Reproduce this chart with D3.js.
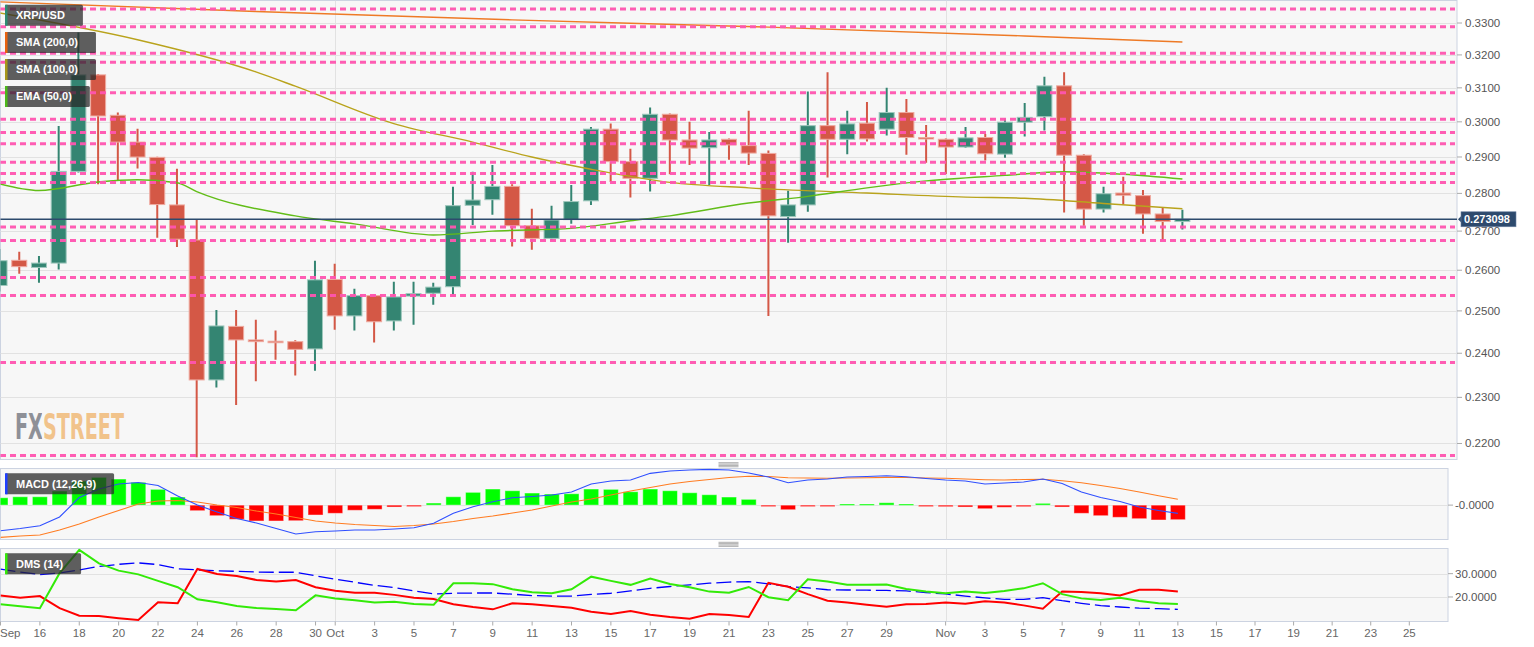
<!DOCTYPE html>
<html><head><meta charset="utf-8">
<script src="https://cdn.jsdelivr.net/npm/d3@7"></script>
<style>
html,body{margin:0;padding:0;background:#fff;}
svg{display:block;font-family:"Liberation Sans",Arial,sans-serif;}
</style></head><body>
<svg id="chart" width="1534" height="647"></svg>
<script>
// ---------------- DATA ----------------
const candleDates = ["2019-09-14","2019-09-15","2019-09-16","2019-09-17","2019-09-18","2019-09-19","2019-09-20","2019-09-21","2019-09-22","2019-09-23","2019-09-24","2019-09-25","2019-09-26","2019-09-27","2019-09-28","2019-09-29","2019-09-30",
"2019-10-01","2019-10-02","2019-10-03","2019-10-04","2019-10-05","2019-10-06","2019-10-07","2019-10-08","2019-10-09","2019-10-10","2019-10-11","2019-10-12","2019-10-13","2019-10-14","2019-10-15","2019-10-16","2019-10-17","2019-10-18","2019-10-19","2019-10-20","2019-10-21","2019-10-22","2019-10-23","2019-10-24","2019-10-25","2019-10-26","2019-10-27","2019-10-28","2019-10-29","2019-10-30","2019-10-31",
"2019-11-01","2019-11-02","2019-11-03","2019-11-04","2019-11-05","2019-11-06","2019-11-07","2019-11-08","2019-11-09","2019-11-10","2019-11-11","2019-11-12","2019-11-13"];
const opens  = [.2562,.2625,.2607,.2618,.2860,.3139,.3019,.2942,.2899,.2769,.2677,.2339,.2463,.2431,.2428,.2427,.2410,
.2577,.2488,.2537,.2476,.2536,.2543,.2559,.2768,.2783,.2819,.2714,.2681,.2730,.2780,.2979,.2887,.2841,.3022,.2948,.2926,.2950,.2932,.2910,.2738,.2769,.2989,.2950,.2996,.2979,.3027,.2955,
.2950,.2928,.2955,.2908,.2999,.3015,.3106,.2905,.2758,.2801,.2794,.2745,.2725];
const highs  = [.2654,.2647,.2636,.2988,.3270,.3142,.3027,.2980,.2901,.2867,.2729,.2502,.2502,.2479,.2453,.2430,.2624,
.2616,.2554,.2539,.2571,.2571,.2569,.2818,.2859,.2878,.2825,.2759,.2767,.2823,.2985,.2995,.2923,.3042,.3024,.3000,.2971,.2952,.3032,.2918,.2807,.3089,.3147,.3032,.3058,.3100,.3067,.2991,
.2952,.2985,.2965,.3010,.3055,.3133,.3147,.2908,.2818,.2845,.2809,.2762,.2756];
const lows   = [.2547,.2591,.2569,.2602,.2857,.2825,.2834,.2868,.2683,.2659,.2171,.2322,.2283,.2336,.2385,.2349,.2360,
.2455,.2453,.2425,.2453,.2467,.2515,.2540,.2716,.2743,.2660,.2652,.2677,.2719,.2769,.2831,.2789,.2805,.2852,.2878,.2823,.2892,.2878,.2488,.2670,.2751,.2843,.2908,.2944,.2961,.2906,.2884,
.2853,.2926,.2890,.2898,.2958,.2975,.2749,.2714,.2749,.2771,.2693,.2677,.2704];
const closes = [.2624,.2609,.2618,.2860,.3139,.3017,.2942,.2900,.2770,.2679,.2339,.2464,.2431,.2427,.2426,.2409,.2576,
.2488,.2537,.2474,.2534,.2542,.2558,.2767,.2782,.2819,.2714,.2681,.2729,.2778,.2979,.2887,.2841,.3022,.2948,.2925,.2948,.2934,.2911,.2740,.2769,.2989,.2950,.2994,.2951,.3027,.2955,.2951,
.2928,.2954,.2909,.2999,.3013,.3106,.2905,.2758,.2799,.2795,.2745,.2725,.273098];
const lastPrice = 0.273098;

const sma200Dates  = ["2019-09-14","2019-09-27","2019-10-10","2019-10-23","2019-11-05","2019-11-13"];
const sma200Values = [0.3368,0.3337,0.3310,0.3287,0.3259,0.3240];
const sma100Dates  = ["2019-09-14","2019-09-21","2019-09-27","2019-09-29","2019-10-04","2019-10-08","2019-10-11","2019-10-14","2019-10-18","2019-10-22","2019-10-28","2019-11-02","2019-11-05","2019-11-09","2019-11-13"];
const sma100Values = [0.3332,0.3247,0.3148,0.3105,0.2995,0.2942,0.2900,0.2866,0.2830,0.2815,0.2801,0.2790,0.2787,0.2773,0.2759];
const ema50Dates   = ["2019-09-14","2019-09-16","2019-09-19","2019-09-21","2019-09-23","2019-09-24","2019-09-29","2019-10-02","2019-10-06","2019-10-09","2019-10-13","2019-10-16","2019-10-18","2019-10-22","2019-10-25","2019-10-28","2019-10-31","2019-11-04","2019-11-07","2019-11-10","2019-11-13"];
const ema50Values  = [0.2826,0.2808,0.2831,0.2837,0.2829,0.2805,0.2740,0.2719,0.2690,0.2700,0.2707,0.2727,0.2740,0.2774,0.2792,0.2815,0.2834,0.2849,0.2859,0.2852,0.2839];

const levels = [0.33452,0.32884,0.32050,0.31776,0.30857,0.30075,0.29691,0.29370,0.28854,0.28541,0.28293,0.27109,0.26755,0.25816,0.25374,0.23786,0.21746];

const macdHist = [0.00205,0.00233,0.00233,0.00391,0.00669,0.00771,0.00724,0.00633,0.00438,0.00225,-0.00155,-0.00294,-0.00394,-0.00441,-0.00441,-0.00433,-0.00275,
-0.00228,-0.00144,-0.00117,-0.00053,-0.00006,0.00058,0.00233,0.00355,0.00447,0.0040,0.00336,0.00308,0.00316,0.00447,0.00438,0.00372,0.00447,0.0040,0.00344,0.00289,0.00225,0.00161,-0.00025,-0.00128,-0.00017,-0.00006,0.00031,0.00031,0.00067,0.00031,-0.00002,
-0.00044,-0.00053,-0.0010,-0.00061,-0.00044,0.0005,-0.00053,-0.00228,-0.00294,-0.00339,-0.00377,-0.00413,-0.00405];
const macdLine = [-0.0071,-0.00649,-0.00572,-0.0033,0.00211,0.00447,0.00586,0.00627,0.00544,0.00253,0.00003,-0.00191,-0.00372,-0.00497,-0.00649,-0.00802,-0.00738,
-0.00719,-0.00691,-0.00691,-0.00663,-0.00627,-0.00505,-0.00228,-0.00044,0.00094,0.00205,0.00239,0.0028,0.00364,0.00586,0.00669,0.00697,0.00882,0.00946,0.00974,0.00993,0.00974,0.00891,0.0078,0.00622,0.00697,0.00724,0.0078,0.00794,0.00816,0.00788,0.00738,
0.00697,0.00669,0.00586,0.00613,0.00641,0.00724,0.00599,0.00364,0.00211,0.0010,-0.00053,-0.0015,-0.00228];
const macdSignal = [-0.00894,-0.00857,-0.0083,-0.00691,-0.00524,-0.0033,-0.0015,0.00031,0.00114,0.00128,0.00086,0.00003,-0.00067,-0.00164,-0.00247,-0.00344,-0.00441,
-0.00497,-0.00538,-0.00566,-0.00594,-0.00566,-0.00524,-0.00455,-0.00372,-0.00302,-0.00219,-0.00136,-0.00025,0.00086,0.00169,0.0028,0.00391,0.00488,0.00586,0.00655,0.0071,0.00766,0.00799,0.00794,0.0076,0.00752,0.00744,0.00752,0.0076,0.00771,0.00766,0.00752,
0.00744,0.00724,0.00705,0.00697,0.0071,0.00716,0.00677,0.00622,0.00544,0.00461,0.00364,0.00261,0.00161];

const diPlus = [16.9,16.0,15.2,30.2,40.2,34.4,31.3,29.7,26.9,24.2,19.0,17.7,16.1,15.3,14.8,14.3,20.7,
19.3,18.6,17.6,17.9,17.0,16.7,25.9,25.9,25.5,23.3,22.0,21.6,23.3,28.7,26.9,25.2,27.9,25.6,24.2,22.3,21.8,24.3,19.9,18.6,27.6,26.6,25.2,25.2,25.3,23.4,22.3,
21.6,22.4,21.7,22.6,23.7,25.9,21.2,19.4,18.7,19.7,18.3,17.3,17.0];
const diMinus = [20.6,19.7,20.4,15.2,12.0,11.8,10.9,10.1,17.7,17.3,32.0,29.9,29.0,27.3,26.6,27.3,24.2,
22.7,21.8,21.8,20.9,19.7,19.1,16.9,15.7,14.7,17.3,16.9,16.1,15.4,13.7,12.7,14.0,12.4,11.4,10.7,12.7,12.3,11.4,26.1,24.4,21.2,18.4,17.6,16.7,15.8,16.9,17.0,
17.6,17.1,18.2,17.6,16.4,15.0,22.3,22.1,21.6,20.6,23.1,23.1,22.4];
const adx = [31.9,30.7,29.6,30.3,31.6,33.1,34.0,34.6,33.9,32.1,31.6,31.2,31.0,30.7,30.6,30.6,29.1,
27.6,26.3,25.0,24.0,22.6,21.3,21.6,21.7,21.7,21.2,20.6,20.4,20.4,21.1,21.6,22.6,23.7,24.5,25.2,25.9,26.4,26.6,25.6,24.5,23.9,23.1,23.0,22.9,22.8,22.6,21.9,
21.3,20.4,19.6,19.0,19.0,19.7,18.4,17.3,16.3,15.7,15.2,15.0,14.7];

const priceTicks = [0.22,0.23,0.24,0.25,0.26,0.27,0.28,0.29,0.30,0.31,0.32,0.33];
const macdTicks = [0]; const macdTickLabels = ["-0.0000"];
const dmsTicks = [20,30];
const xTickDates = ["2019-09-14","2019-09-16","2019-09-18","2019-09-20","2019-09-22","2019-09-24","2019-09-26","2019-09-28","2019-09-30",
"2019-10-01","2019-10-03","2019-10-05","2019-10-07","2019-10-09","2019-10-11","2019-10-13","2019-10-15","2019-10-17","2019-10-19","2019-10-21","2019-10-23","2019-10-25","2019-10-27","2019-10-29",
"2019-11-01","2019-11-03","2019-11-05","2019-11-07","2019-11-09","2019-11-11","2019-11-13","2019-11-15","2019-11-17","2019-11-19","2019-11-21","2019-11-23","2019-11-25"];
const xTickLabels = ["Sep","16","18","20","22","24","26","28","30","Oct","3","5","7","9","11","13","15","17","19","21","23","25","27","29","Nov","3","5","7","9","11","13","15","17","19","21","23","25"];
const monthStarts = ["2019-10-01","2019-11-01"];
const legendMain = [{t:"XRP/USD",c:"#2e8a73"},{t:"SMA (200,0)",c:"#e8620f"},{t:"SMA (100,0)",c:"#a8981a"},{t:"EMA (50,0)",c:"#4cb81a"}];

// ---------------- LAYOUT ----------------
const parse = d3.utcParse("%Y-%m-%d");
const svg = d3.select("#chart");
const mainR = 1457, mainT = 0.5, mainB = 459.5;
const subR = 1448, macdT = 468.5, macdB = 539.5, dmsT = 548.5, dmsB = 621.5;

const xMain = d3.scaleUtc().domain([parse("2019-09-14"), parse("2019-11-13")]).range([-0.46, 1182.4]);
const xSub = d3.scaleUtc().domain([parse("2019-09-14"), parse("2019-11-03"), parse("2019-11-25")]).range([0.5, 985, 1409.3]);
const yMain = d3.scaleLog().domain([0.22, 0.33]).range([443.47, 23]);
const yMacd = d3.scaleLinear().domain([-0.0094, 0.0103]).range([539, 468]);
const yDms = d3.scaleLinear().domain([9.7, 41.0]).range([621, 548]);

const candles = candleDates.map((d,i)=>({date:parse(d),o:opens[i],h:highs[i],l:lows[i],c:closes[i]}));
const defs = svg.append("defs");
function clip(id,x,y,w,h){defs.append("clipPath").attr("id",id).append("rect").attr("x",x).attr("y",y).attr("width",w).attr("height",h);}
clip("cMain",0.5,mainT,mainR-0.5,mainB-mainT);
clip("cMacd",0.5,macdT,subR-0.5,macdB-macdT);
clip("cDms",0.5,dmsT,subR-0.5,dmsB-dmsT);

const panelStroke = "#ccd3e1", gridC = "#e2e2e2";
function panel(y0,y1,r){svg.append("rect").attr("x",0.5).attr("y",y0).attr("width",r-0.5).attr("height",y1-y0).attr("fill","#f7f7f7").attr("stroke",panelStroke);}
panel(mainT,mainB,mainR); panel(macdT,macdB,subR); panel(dmsT,dmsB,subR);

// ---------- MAIN PANEL ----------
const gM = svg.append("g").attr("clip-path","url(#cMain)");
gM.selectAll(".hg").data(priceTicks).join("line").attr("x1",0).attr("x2",mainR)
  .attr("y1",d=>Math.round(yMain(d))+0.5).attr("y2",d=>Math.round(yMain(d))+0.5).attr("stroke",gridC);
gM.selectAll(".vg").data(monthStarts).join("line").attr("x1",d=>Math.round(xMain(parse(d)))+0.5).attr("x2",d=>Math.round(xMain(parse(d)))+0.5)
  .attr("y1",mainT).attr("y2",mainB).attr("stroke",gridC);

// logo: one text element, two colours via a hard-stop gradient
const logoGrad = defs.append("linearGradient").attr("id","logoFill").attr("gradientUnits","userSpaceOnUse")
  .attr("x1",0).attr("x2",1534).attr("y1",0).attr("y2",0);
const logo = gM.append("text").attr("x",15).attr("y",439)
  .attr("font-family","'Liberation Sans Narrow','DejaVu Sans Condensed','Roboto',sans-serif").attr("font-weight","bold").attr("font-size",35)
  .attr("textLength",109).attr("lengthAdjust","spacingAndGlyphs").attr("fill","url(#logoFill)").text("FXSTREET");
let splitX = 41;
try { splitX = logo.node().getStartPositionOfChar(2).x - 0.5; } catch(e) {}
const off = splitX/1534;
logoGrad.append("stop").attr("offset",0).attr("stop-color","#8e9097");
logoGrad.append("stop").attr("offset",off).attr("stop-color","#8e9097");
logoGrad.append("stop").attr("offset",off).attr("stop-color","#f1c38b");
logoGrad.append("stop").attr("offset",1).attr("stop-color","#f1c38b");

// candles
const upC="#348572", upS="#9fc8bd", dnC="#d45846", dnS="#efaaa0";
const cw = 15;
const cg = gM.append("g");
cg.selectAll(".wick").data(candles).join("line")
  .attr("x1",d=>xMain(d.date)).attr("x2",d=>xMain(d.date))
  .attr("y1",d=>yMain(d.h)).attr("y2",d=>yMain(d.l))
  .attr("stroke",d=>d.c>=d.o?upC:dnC).attr("stroke-width",2);
cg.selectAll(".body").data(candles).join("rect")
  .attr("x",d=>xMain(d.date)-cw/2).attr("width",cw)
  .attr("y",d=>yMain(Math.max(d.o,d.c)))
  .attr("height",d=>Math.max(1.5,yMain(Math.min(d.o,d.c))-yMain(Math.max(d.o,d.c))))
  .attr("fill",d=>d.c>=d.o?upC:dnC).attr("stroke",d=>d.c>=d.o?upS:dnS).attr("stroke-width",1);

// moving averages
function maLine(dates,vals,color){
  const pts = dates.map((d,i)=>[parse(d),vals[i]]);
  gM.append("path").datum(pts).attr("fill","none").attr("stroke",color).attr("stroke-width",1.4)
    .attr("d",d3.line().x(p=>xMain(p[0])).y(p=>yMain(p[1])).curve(d3.curveMonotoneX));
}
maLine(sma200Dates,sma200Values,"#ee7a26");
maLine(sma100Dates,sma100Values,"#b9a31c");
maLine(ema50Dates,ema50Values,"#62bd18");

// levels
gM.selectAll(".lvl").data(levels).join("line").attr("x1",0).attr("x2",mainR-2)
  .attr("y1",d=>yMain(d)).attr("y2",d=>yMain(d))
  .attr("stroke","#ff55b0").attr("stroke-width",3).attr("stroke-dasharray","6 4").attr("opacity",0.95);

// current price line
gM.append("line").attr("x1",0).attr("x2",mainR).attr("y1",yMain(lastPrice)).attr("y2",yMain(lastPrice))
  .attr("stroke","#2d4a6d").attr("stroke-width",1.3);

// main y axis
const axM = svg.append("g");
axM.selectAll("line").data(priceTicks).join("line").attr("x1",mainR).attr("x2",mainR+5)
  .attr("y1",d=>yMain(d)).attr("y2",d=>yMain(d)).attr("stroke","#aaa");
axM.selectAll("text").data(priceTicks).join("text").attr("x",mainR+8).attr("y",d=>yMain(d)).attr("dy","0.35em")
  .attr("font-size",11.5).attr("fill","#555").text(d=>d3.format(".4f")(d));

// price label
const py = yMain(lastPrice);
svg.append("path").attr("d",`M${mainR+1},${py} L${mainR+5},${py-4} L${mainR+5},${py+4} Z`).attr("fill","#2d4a6d");
svg.append("rect").attr("x",mainR+4).attr("y",py-7.5).attr("width",55).attr("height",15).attr("fill","#2d4a6d").attr("stroke","#6e84a3").attr("stroke-width",0.6);
svg.append("text").attr("x",mainR+7).attr("y",py).attr("dy","0.36em").attr("font-size",11).attr("font-weight","bold").attr("fill","#fff").text(d3.format(".6f")(lastPrice));

// ---------- MACD PANEL ----------
const gC = svg.append("g").attr("clip-path","url(#cMacd)");
gC.append("line").attr("x1",0).attr("x2",subR).attr("y1",Math.round(yMacd(0))+0.5).attr("y2",Math.round(yMacd(0))+0.5).attr("stroke",gridC);
gC.selectAll(".vg").data(monthStarts).join("line").attr("x1",d=>Math.round(xSub(parse(d)))+0.5).attr("x2",d=>Math.round(xSub(parse(d)))+0.5)
  .attr("y1",macdT).attr("y2",macdB).attr("stroke",gridC);
gC.selectAll(".hist").data(candleDates).join("rect")
  .attr("x",d=>xSub(parse(d))-7.5).attr("width",15)
  .attr("y",(d,i)=>yMacd(Math.max(0,macdHist[i])))
  .attr("height",(d,i)=>Math.max(1.5,Math.abs(yMacd(macdHist[i])-yMacd(0))))
  .attr("fill",(d,i)=>macdHist[i]>=0?"#00ff00":"#ff0000")
  .attr("stroke","rgba(255,255,255,0.45)").attr("stroke-width",1);
const lineSub = (arr,ys)=>d3.line().x((d,i)=>xSub(parse(candleDates[i]))).y((d,i)=>ys(arr[i]));
gC.append("path").datum(macdSignal).attr("fill","none").attr("stroke","#ff7c22").attr("stroke-width",1.1).attr("d",lineSub(macdSignal,yMacd));
gC.append("path").datum(macdLine).attr("fill","none").attr("stroke","#2f4fff").attr("stroke-width",1.1).attr("d",lineSub(macdLine,yMacd));
const axC = svg.append("g");
axC.selectAll("line").data(macdTicks).join("line").attr("x1",subR).attr("x2",subR+5).attr("y1",d=>yMacd(d)).attr("y2",d=>yMacd(d)).attr("stroke","#aaa");
axC.selectAll("text").data(macdTicks).join("text").attr("x",subR+7).attr("y",d=>yMacd(d)).attr("dy","0.35em")
  .attr("font-size",11.5).attr("fill","#555").text((d,i)=>macdTickLabels[i]);

// ---------- DMS PANEL ----------
const gD = svg.append("g").attr("clip-path","url(#cDms)");
gD.selectAll(".hg").data(dmsTicks).join("line").attr("x1",0).attr("x2",subR)
  .attr("y1",d=>Math.round(yDms(d))+0.5).attr("y2",d=>Math.round(yDms(d))+0.5).attr("stroke",gridC);
gD.selectAll(".vg").data(monthStarts).join("line").attr("x1",d=>Math.round(xSub(parse(d)))+0.5).attr("x2",d=>Math.round(xSub(parse(d)))+0.5)
  .attr("y1",dmsT).attr("y2",dmsB).attr("stroke",gridC);
gD.append("path").datum(adx).attr("fill","none").attr("stroke","#0000ff").attr("stroke-width",1.3).attr("stroke-dasharray","15 5").attr("d",lineSub(adx,yDms));
gD.append("path").datum(diMinus).attr("fill","none").attr("stroke","#ff0000").attr("stroke-width",2).attr("d",lineSub(diMinus,yDms));
gD.append("path").datum(diPlus).attr("fill","none").attr("stroke","#33ea08").attr("stroke-width",2).attr("d",lineSub(diPlus,yDms));
const axD = svg.append("g");
axD.selectAll("line").data(dmsTicks).join("line").attr("x1",subR).attr("x2",subR+5).attr("y1",d=>yDms(d)).attr("y2",d=>yDms(d)).attr("stroke","#aaa");
axD.selectAll("text").data(dmsTicks).join("text").attr("x",subR+7).attr("y",d=>yDms(d)).attr("dy","0.35em")
  .attr("font-size",11.5).attr("fill","#555").text(d=>d3.format(".4f")(d));

// ---------- X AXIS ----------
const axX = svg.append("g");
axX.selectAll("line").data(xTickDates).join("line").attr("x1",d=>xSub(parse(d))).attr("x2",d=>xSub(parse(d)))
  .attr("y1",dmsB).attr("y2",dmsB+4).attr("stroke","#aaa");
axX.selectAll("text").data(xTickDates).join("text").attr("x",d=>xSub(parse(d))).attr("y",637)
  .attr("text-anchor","middle").attr("font-size",11.5).attr("fill","#666").text((d,i)=>xTickLabels[i])
  .each(function(){const w=this.getComputedTextLength();const x=+this.getAttribute("x");if(x-w/2<0){d3.select(this).attr("text-anchor","start").attr("x",0);}});

// grips
function grip(cx,y){for(let k=0;k<4;k++){svg.append("line").attr("x1",cx-10).attr("x2",cx+10).attr("y1",y+k*1.35).attr("y2",y+k*1.35).attr("stroke","#888").attr("stroke-width",0.7);}}
grip(mainR/2, 462.7); grip(mainR/2, 542.3);

// ---------- LEGENDS ----------
function legend(label,color,y){
  const g = svg.append("g");
  const r = g.append("rect").attr("x",5).attr("y",y).attr("height",21).attr("rx",1.5).attr("fill","rgba(40,40,40,0.74)");
  g.append("rect").attr("x",5).attr("y",y).attr("width",2.5).attr("height",21).attr("fill",color);
  const t = g.append("text").attr("x",16).attr("y",y+10.5).attr("dy","0.36em").attr("font-size",11).attr("font-weight","bold").attr("fill","#fff").text(label);
  r.attr("width",t.node().getComputedTextLength()+29);
}
legend(legendMain[0].t,legendMain[0].c,4.7);
legend(legendMain[1].t,legendMain[1].c,32);
legend(legendMain[2].t,legendMain[2].c,59);
legend(legendMain[3].t,legendMain[3].c,86);
legend("MACD (12,26,9)","#1f3fff",473.3);
legend("DMS (14)","#33ea08",553.3);
</script>
</body></html>
